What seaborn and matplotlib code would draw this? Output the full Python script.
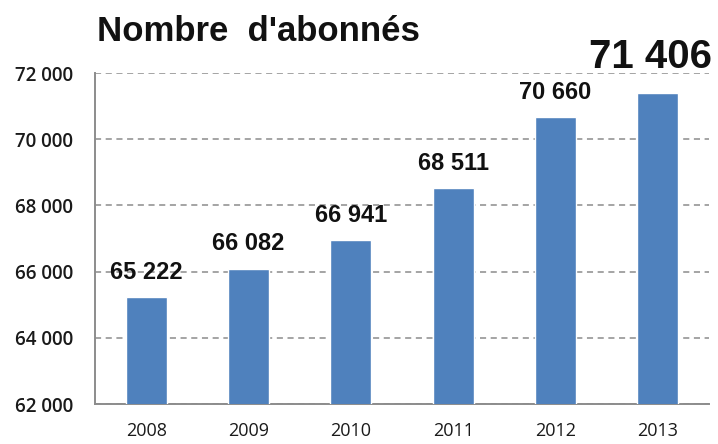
#Load required libraries
import numpy as np
import pandas as pd
import matplotlib
matplotlib.use('Agg')
import matplotlib.pyplot as plt
import seaborn as sns

#Data
years = ['2008', '2009', '2010', '2011', '2012', '2013']
abonnes = [65222, 66082, 66941, 68511, 70660, 71406]
yticks = [62000, 64000, 66000, 68000, 70000, 72000]
title = "Nombre  d'abonnés"

df = pd.DataFrame({'Annee': years, 'Abonnes': abonnes})

def fmt(v):
    return f'{v:,}'.replace(',', ' ')

sns.set_style('white')
plt.rcParams['font.family'] = ['Liberation Sans', 'DejaVu Sans']

fig = plt.figure(figsize=(7.18, 4.44), dpi=100)
ax = fig.add_axes([95/718, 1 - 404/444, 614/718, 331/444])

sns.barplot(data=df, x='Annee', y='Abonnes', color='#4F81BD', width=0.4,
            saturation=1, ax=ax, zorder=3)

ax.set_ylim(62000, 72000)
ax.set_xlim(-0.5, len(years) - 0.5)
ax.set_yticks(yticks)
ax.set_yticklabels([fmt(t) for t in yticks], fontfamily='Open Sans',
                   fontweight='semibold', fontsize=13.5, color='#1a1a1a')
ax.set_xticklabels(years, fontfamily='Open Sans', fontsize=13, color='#1a1a1a')
ax.set_xlabel('')
ax.set_ylabel('')

#Ticks at category boundaries on the x axis
ax.set_xticks(np.arange(-0.5, len(years), 1), minor=True)
ax.tick_params(axis='x', which='major', length=0, pad=13)
ax.tick_params(axis='x', which='minor', length=4.5, width=1.2, color='#888888', direction='out')
ax.tick_params(axis='y', length=6.5, width=1.2, color='#888888', direction='out', pad=9)

#Dashed grid
ax.yaxis.grid(True, linestyle=(0, (4, 3)), color='#8c8c8c', linewidth=1.1, zorder=0)
ax.set_axisbelow(True)

for s in ['top', 'right']:
    ax.spines[s].set_visible(False)
for s in ['left', 'bottom']:
    ax.spines[s].set_color('#8c8c8c')
    ax.spines[s].set_linewidth(1.4)

#Value labels
for i, v in enumerate(abonnes):
    if i == len(abonnes) - 1:
        ax.annotate(fmt(v), (i, v), xytext=(-5, 26), textcoords='offset points',
                    ha='center', va='center', fontsize=29, fontweight='bold',
                    color='#111111')
    else:
        ax.annotate(fmt(v), (i, v), xytext=(0, 18), textcoords='offset points',
                    ha='center', va='center', fontsize=17, fontweight='bold',
                    color='#111111')

fig.text(97/718, 1 - 41/444, title, fontsize=25, fontweight='bold',
         color='#111111', ha='left', va='baseline')

fig.savefig('out.png', dpi=100)
